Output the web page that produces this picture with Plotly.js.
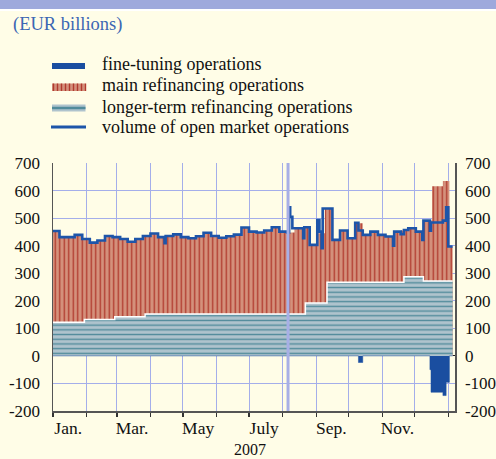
<!DOCTYPE html>
<html><head><meta charset="utf-8">
<script src="https://cdn.plot.ly/plotly-3.0.1.min.js"></script>
<style>html,body{margin:0;padding:0;background:#fffde7;} #chart{width:496px;height:459px;}</style>
</head><body><div id="chart"></div>
<script>
// ---- data (EUR billions) ----
const ltroDates = ["2007-01-01","2007-01-30","2007-02-27","2007-03-27","2007-08-22","2007-09-11","2007-11-21","2007-12-09","2008-01-05"];
const ltroValues = [122,132,142,152,192,267,287,272,272];

const mroDates = ["2007-01-01","2007-01-07","2007-01-14","2007-01-21","2007-01-28","2007-01-30","2007-02-04","2007-02-11","2007-02-18","2007-02-25","2007-02-27","2007-03-04","2007-03-11","2007-03-18","2007-03-25","2007-03-27","2007-04-01","2007-04-08","2007-04-15","2007-04-22","2007-04-29","2007-05-06","2007-05-13","2007-05-20","2007-05-27","2007-06-03","2007-06-10","2007-06-17","2007-06-24","2007-07-01","2007-07-08","2007-07-15","2007-07-22","2007-07-29","2007-08-05","2007-08-12","2007-08-19","2007-08-22","2007-08-26","2007-09-02","2007-09-09","2007-09-11","2007-09-16","2007-09-23","2007-09-30","2007-10-07","2007-10-14","2007-10-21","2007-10-28","2007-11-04","2007-11-11","2007-11-18","2007-11-21","2007-11-25","2007-12-02","2007-12-09","2007-12-17","2007-12-27","2008-01-02","2008-01-05"];
const mroValues = [331,309,309,317,302,292,279,287,303,299,289,282,272,282,293,283,292,279,283,289,279,275,282,295,283,277,282,288,314,299,296,303,315,299,296,311,315,275,211,253,343,268,154,188,160,214,172,184,172,166,184,188,168,176,164,219,344,363,125,125];

const ftoDates = ["2007-01-01","2007-10-10","2007-10-14","2007-12-15","2007-12-16","2007-12-27","2007-12-30","2008-01-02","2008-01-05"];
const ftoValues = [0,-24,0,-50,-132,-144,-96,0,0];

const omoDates = ["2007-01-01","2007-01-07","2007-01-21","2007-01-28","2007-02-04","2007-02-11","2007-02-18","2007-02-25","2007-03-04","2007-03-11","2007-03-18","2007-03-25","2007-04-01","2007-04-08","2007-04-14","2007-04-15","2007-04-22","2007-04-29","2007-05-06","2007-05-13","2007-05-20","2007-05-27","2007-06-03","2007-06-10","2007-06-17","2007-06-24","2007-07-01","2007-07-08","2007-07-15","2007-07-22","2007-07-29","2007-08-05","2007-08-07","2007-08-08","2007-08-10","2007-08-20","2007-08-21","2007-08-26","2007-09-02","2007-09-04","2007-09-06","2007-09-07","2007-09-16","2007-09-23","2007-09-30","2007-10-07","2007-10-10","2007-10-14","2007-10-21","2007-10-28","2007-11-04","2007-11-11","2007-11-12","2007-11-18","2007-11-21","2007-11-25","2007-12-02","2007-12-08","2007-12-09","2007-12-15","2007-12-16","2007-12-27","2007-12-30","2008-01-01","2008-01-05"];
const omoValues = [453,431,439,424,411,419,435,431,424,414,424,435,444,431,409,435,441,431,427,434,447,435,429,434,440,466,451,448,455,467,451,448,539,505,463,427,467,403,493,451,391,535,421,455,427,483,455,439,451,439,433,400,451,442,457,463,451,421,491,454,484,491,539,397,397];

const monthStarts = ["2007-01-01","2007-02-01","2007-03-01","2007-04-01","2007-05-01","2007-06-01","2007-07-01","2007-08-01","2007-09-01","2007-10-01","2007-11-01","2007-12-01","2008-01-01"];
const monthLabelDates = ["2007-01-15","2007-03-15","2007-05-15","2007-07-15","2007-09-15","2007-11-15"];
const monthLabels = ["Jan.","Mar.","May","July","Sep.","Nov."];
const yTickVals = [-200,-100,0,100,200,300,400,500,600,700];
const yTickText = ["-200","-100","0","100","200","300","400","500","600","700"];
const yearLabel = "2007";
const unitLabel = "(EUR billions)";
const seriesNames = ["fine-tuning operations","main refinancing operations","longer-term refinancing operations","volume of open market operations"];
const turmoilDate = "2007-08-06";
const xRange = ["2007-01-01","2008-01-07 04:00"];

// ---- stacking: MRO on top of LTRO ----
function ltroAt(d){ let v = ltroValues[0]; for(let i=0;i<ltroDates.length;i++){ if(ltroDates[i] <= d) v = ltroValues[i]; } return v; }
const mroTop = mroDates.map((d,i)=> mroValues[i] + ltroAt(d));

// ---- colours ----
const BG = "#fffde7", SALMON = "#d4917c", DRED = "#b03a2e", LBLUE = "#afc3cd", TEAL = "#518b9b",
      BLUE = "#1d55a9", FTOBLUE = "#1a4ea0", GRID = "#a4aeea", LAV = "#a7afe6", SERIF = "Liberation Serif, Times New Roman, serif";

// plot area in pixels: left 53, right 455, top 163, bottom 411
const L=53, R=455, T=163, B=411;
const px = X => (X-L)/(R-L), py = Y => (B-Y)/(B-T);

const traces = [
  {x: mroDates, y: mroTop, mode:"lines", line:{shape:"hv", width:0, color:SALMON}, fill:"tozeroy", fillcolor:SALMON,
   fillpattern:{shape:"|", bgcolor:SALMON, fgcolor:DRED, size:4.5, solidity:0.3}, showlegend:false, hoverinfo:"skip", name:seriesNames[1]},
  {x: ltroDates, y: ltroValues, mode:"lines", line:{shape:"hv", width:1.5, color:"#ffffff"}, fill:"tozeroy", fillcolor:LBLUE,
   fillpattern:{shape:"-", bgcolor:LBLUE, fgcolor:TEAL, size:4.7, solidity:0.3}, showlegend:false, hoverinfo:"skip", name:seriesNames[2]},
  {x: ftoDates, y: ftoValues, mode:"lines", line:{shape:"hv", width:0.5, color:FTOBLUE}, fill:"tozeroy", fillcolor:FTOBLUE,
   showlegend:false, hoverinfo:"skip", name:seriesNames[0]},
  {x: omoDates, y: omoValues, mode:"lines", line:{shape:"hv", width:2.6, color:BLUE}, showlegend:false, hoverinfo:"skip", name:seriesNames[3]},
  {x:[monthLabelDates[0]], y:[0], xaxis:"x2", yaxis:"y2", mode:"markers", marker:{opacity:0}, showlegend:false, hoverinfo:"skip"}
];

const shapes = [
  {type:"rect", xref:"paper", yref:"paper", x0:px(0), x1:px(496), y0:py(9), y1:py(0), fillcolor:"#9ea9dc", line:{width:0}, layer:"above"},
  {type:"rect", xref:"paper", yref:"paper", x0:px(0), x1:px(496), y0:py(11), y1:py(9), fillcolor:"#ffffff", line:{width:0}, layer:"above"},
  {type:"line", xref:"x", yref:"paper", x0:turmoilDate, x1:turmoilDate, y0:0, y1:1, line:{color:LAV, width:3}, layer:"above"},
  // legend icons
  {type:"rect", xref:"paper", yref:"paper", x0:px(52), x1:px(85), y0:py(69), y1:py(63), fillcolor:FTOBLUE, line:{width:0}},
  {type:"rect", xref:"paper", yref:"paper", x0:px(52), x1:px(85.5), y0:py(91), y1:py(83.5), fillcolor:SALMON, line:{width:0}},
  {type:"rect", xref:"paper", yref:"paper", x0:px(52), x1:px(85.5), y0:py(111.5), y1:py(104.5), fillcolor:LBLUE, line:{width:0}},
  {type:"line", xref:"paper", yref:"paper", x0:px(52), x1:px(85.5), y0:py(108), y1:py(108), line:{color:TEAL, width:2.6}},
  {type:"line", xref:"paper", yref:"paper", x0:px(51), x1:px(86), y0:py(127), y1:py(127), line:{color:BLUE, width:3}}
];
for(let k=0;k<9;k++){ const X = 53.5 + k*4; shapes.push({type:"line", xref:"paper", yref:"paper", x0:px(X), x1:px(X), y0:py(91), y1:py(83.5), line:{color:DRED, width:1.4}}); }

const legendY = [63.5, 85, 106.5, 126.5];
const annotations = [
  {text:unitLabel, xref:"paper", yref:"paper", x:px(11), y:py(24), xanchor:"left", yanchor:"middle", showarrow:false, font:{family:SERIF, size:18.5, color:"#3b66b3"}},
  {text:yearLabel, xref:"paper", yref:"paper", x:0.49, y:py(459), xanchor:"center", yanchor:"bottom", borderpad:0, showarrow:false, font:{family:SERIF, size:16, color:"#111"}}
].concat(seriesNames.map((s,i)=>({text:s, xref:"paper", yref:"paper", x:px(100), y:py(legendY[i]), xanchor:"left", yanchor:"middle", showarrow:false, font:{family:SERIF, size:18, color:"#111"}})));

const yCommon = {range:[-200,700], tickvals:yTickVals, ticktext:yTickText, fixedrange:true,
  tickfont:{family:SERIF, size:17, color:"#111"}, ticks:"outside", tickcolor:"rgba(0,0,0,0)"};

const layout = {
  width:496, height:459, margin:{l:L, r:496-R, t:T, b:459-B, pad:0},
  paper_bgcolor:BG, plot_bgcolor:BG, hovermode:false, showlegend:false,
  font:{family:SERIF, color:"#111"},
  xaxis:{type:"date", range:xRange, tickvals:monthStarts, showticklabels:false, ticks:"outside", ticklen:4, tickcolor:"#333", tickwidth:1.2,
    showgrid:true, gridcolor:GRID, gridwidth:1, showline:true, linecolor:"#555", linewidth:1.5, zeroline:false, fixedrange:true},
  xaxis2:{type:"date", range:xRange, overlaying:"x", anchor:"y2", side:"bottom", tickvals:monthLabelDates, ticktext:monthLabels,
    ticks:"outside", ticklen:1, tickcolor:"rgba(0,0,0,0)", showgrid:false, showline:false, zeroline:false, fixedrange:true,
    tickfont:{family:SERIF, size:17.5, color:"#111"}},
  yaxis:Object.assign({}, yCommon, {ticklen:8, showgrid:true, gridcolor:GRID, gridwidth:1, zeroline:true, zerolinecolor:"#222", zerolinewidth:1.2,
    showline:true, linecolor:"#555", linewidth:1.5}),
  yaxis2:Object.assign({}, yCommon, {overlaying:"y", side:"right", anchor:"x2", ticklen:5, showgrid:false, zeroline:false, showline:true, linecolor:"#555", linewidth:1.5}),
  shapes:shapes, annotations:annotations
};

Plotly.newPlot("chart", traces, layout, {staticPlot:true, displayModeBar:false});
</script>
</body></html>
